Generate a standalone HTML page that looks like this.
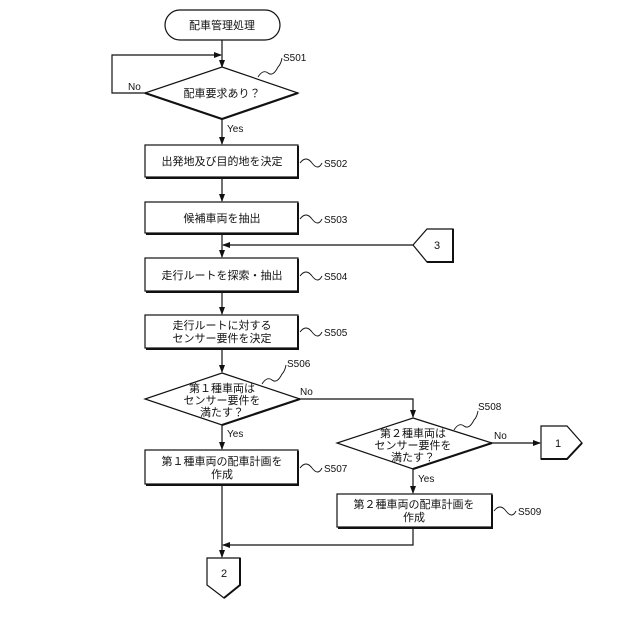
<!DOCTYPE html>
<html><head><meta charset="utf-8"><style>
html,body{margin:0;padding:0;background:#fff}
svg{display:block}
text{font-family:"Liberation Sans","Noto Sans CJK JP",sans-serif;fill:#111}
.t{font-size:11px;text-anchor:middle}
.l{font-size:10px}
</style></head><body>
<svg width="640" height="640" viewBox="0 0 640 640" xmlns="http://www.w3.org/2000/svg">
<defs><marker id="a" markerWidth="8" markerHeight="8" refX="7" refY="4" orient="auto" markerUnits="userSpaceOnUse"><path d="M0,1 L8,4 L0,7 Z" fill="#111"/></marker></defs>
<g stroke="#111" stroke-width="1.2" fill="none">
<!-- terminal -->
<rect x="165" y="10" width="115" height="30" rx="15" fill="#fff"/>
<!-- lines main -->
<line x1="222" y1="40" x2="222" y2="67" marker-end="url(#a)"/>
<polyline points="145,93 112,93 112,55 221,55" marker-end="url(#a)"/>
<line x1="222" y1="119" x2="222" y2="144" marker-end="url(#a)"/>
<line x1="222" y1="178" x2="222" y2="201" marker-end="url(#a)"/>
<line x1="222" y1="234" x2="222" y2="257" marker-end="url(#a)"/>
<line x1="413" y1="245" x2="223" y2="245" marker-end="url(#a)"/>
<line x1="222" y1="292" x2="222" y2="314" marker-end="url(#a)"/>
<line x1="222" y1="349" x2="222" y2="372" marker-end="url(#a)"/>
<line x1="222" y1="425" x2="222" y2="449" marker-end="url(#a)"/>
<polyline points="300,399 413,399 413,417" marker-end="url(#a)"/>
<line x1="492" y1="443" x2="540" y2="443" marker-end="url(#a)"/>
<line x1="413" y1="469" x2="413" y2="493" marker-end="url(#a)"/>
<line x1="222" y1="485" x2="222" y2="557" marker-end="url(#a)"/>
<polyline points="413,528 413,545 223,545" marker-end="url(#a)"/>
<!-- diamonds -->
<polygon points="222,67 298,93 222,119 145,93" fill="#fff"/>
<polyline points="298,93 222,119 145,93" stroke-width="2.2"/>
<polygon points="222,373 300,399 222,425 145,399" fill="#fff"/>
<polyline points="300,399 222,425" stroke-width="2.2"/>
<polygon points="413,418 492,443 413,469 337,443" fill="#fff"/>
<polyline points="492,443 413,469" stroke-width="2.2"/>
<!-- boxes -->
<rect x="145" y="145" width="153" height="32" fill="#fff"/>
<rect x="145" y="202" width="153" height="31" fill="#fff"/>
<rect x="145" y="258" width="153" height="33" fill="#fff"/>
<rect x="145" y="315" width="153" height="33" fill="#fff"/>
<rect x="145" y="450" width="153" height="34" fill="#fff"/>
<rect x="337" y="494" width="155" height="33" fill="#fff"/>
<g stroke-width="2">
<polyline points="298,146 298,178 146,178"/><polyline points="298,203 298,234 146,234"/>
<polyline points="298,259 298,292 146,292"/><polyline points="298,316 298,349 146,349"/>
<polyline points="298,451 298,485 146,485"/><polyline points="492,495 492,528 338,528"/>
</g>
<!-- connectors -->
<polygon points="413,245 427,229 453,229 453,262 427,262" fill="#fff"/>
<polyline points="453,229 453,262 427,262" stroke-width="2"/>
<polygon points="541,426 567,426 582,443 567,459 541,459" fill="#fff"/>
<polyline points="582,443 567,459 541,459" stroke-width="2"/>
<polygon points="207,558 240,558 240,585 224,598 207,585" fill="#fff"/>
<polyline points="240,558 240,585 224,598" stroke-width="2"/>
<!-- squiggles -->
<g stroke-width="0.9">
<path d="M258,77 q5,-8 10,-4 t10,-6 q3,-3 4,-9"/>
<path d="M300,163 q6,-8 12,0 t10,0"/>
<path d="M300,219 q6,-8 12,0 t10,0"/>
<path d="M300,276 q6,-8 12,0 t10,0"/>
<path d="M300,332 q6,-8 12,0 t10,0"/>
<path d="M262,384 q5,-8 10,-4 t10,-6 q3,-3 4,-9"/>
<path d="M300,468 q6,-8 12,0 t10,0"/>
<path d="M454,430 q5,-8 10,-4 t10,-6 q3,-3 4,-9"/>
<path d="M494,511 q6,-8 12,0 t10,0"/>
</g>
</g>
<text class="t" x="222" y="29">配車管理処理</text>
<text class="t" x="222" y="97">配車要求あり？</text>
<text class="t" x="222" y="165">出発地及び目的地を決定</text>
<text class="t" x="222" y="222">候補車両を抽出</text>
<text class="t" x="222" y="279">走行ルートを探索・抽出</text>
<text class="t" x="222" y="329">走行ルートに対する</text>
<text class="t" x="222" y="342">センサー要件を決定</text>
<text class="t" x="222" y="392">第１種車両は</text>
<text class="t" x="222" y="404">センサー要件を</text>
<text class="t" x="222" y="416">満たす？</text>
<text class="t" x="413" y="437">第２種車両は</text>
<text class="t" x="413" y="449">センサー要件を</text>
<text class="t" x="413" y="461">満たす？</text>
<text class="t" x="222" y="465">第１種車両の配車計画を</text>
<text class="t" x="222" y="478">作成</text>
<text class="t" x="414" y="508">第２種車両の配車計画を</text>
<text class="t" x="414" y="521">作成</text>
<text class="t" x="437" y="249">3</text>
<text class="t" x="558" y="447">1</text>
<text class="t" x="224" y="577">2</text>
<g class="l">
<text x="128" y="90">No</text>
<text x="227" y="132">Yes</text>
<text x="300" y="395">No</text>
<text x="227" y="437">Yes</text>
<text x="494" y="439">No</text>
<text x="418" y="482">Yes</text>
<text x="283" y="61">S501</text>
<text x="324" y="167">S502</text>
<text x="324" y="223">S503</text>
<text x="324" y="280">S504</text>
<text x="324" y="336">S505</text>
<text x="287" y="367">S506</text>
<text x="324" y="472">S507</text>
<text x="478" y="410">S508</text>
<text x="518" y="515">S509</text>
</g>
</svg>
</body></html>
